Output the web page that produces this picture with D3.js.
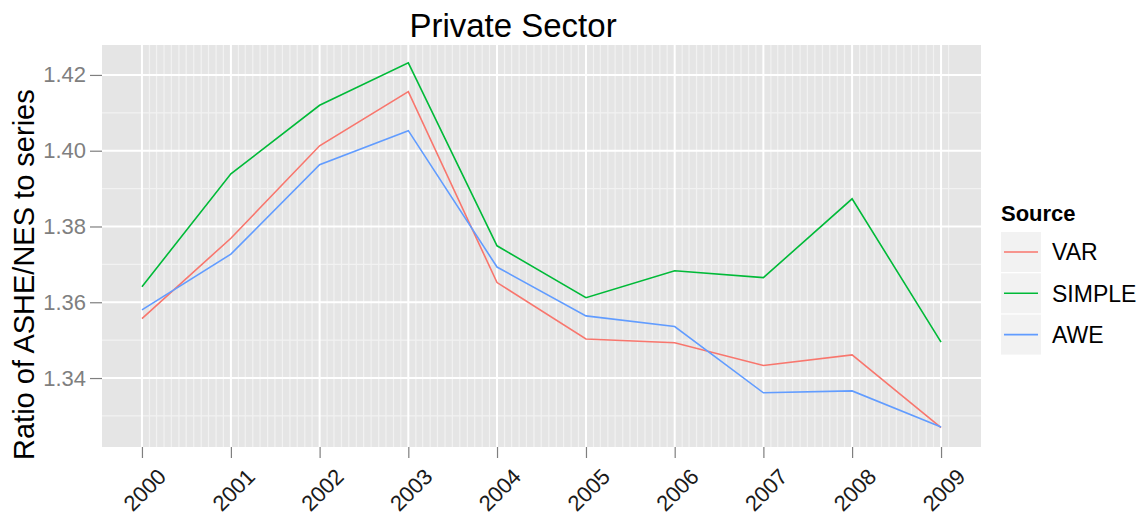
<!DOCTYPE html>
<meta charset="utf-8">
<script src="https://d3js.org/d3.v7.min.js"></script>
<style>
  body { margin: 0; background: #fff; }
  text { font-family: "Liberation Sans", Arial, sans-serif; }
</style>
<div id="chart"></div>
<script>
// data
const years = [2000, 2001, 2002, 2003, 2004, 2005, 2006, 2007, 2008, 2009];
const varSeries    = [1.3557, 1.3769, 1.4013, 1.4156, 1.3652, 1.3503, 1.3493, 1.3433, 1.3461, 1.3269];
const simpleSeries = [1.3641, 1.3939, 1.4120, 1.4232, 1.3749, 1.3612, 1.3683, 1.3665, 1.3873, 1.3495];
const aweSeries    = [1.3580, 1.3727, 1.3963, 1.4053, 1.3693, 1.3564, 1.3536, 1.3361, 1.3366, 1.3271];
const sourceNames  = ["VAR", "SIMPLE", "AWE"];
const yTicks = [1.34, 1.36, 1.38, 1.40, 1.42];
const yMinor = [1.33, 1.35, 1.37, 1.39, 1.41];

const series = [
  {name: "VAR", values: varSeries, color: "#F8766D"},
  {name: "SIMPLE", values: simpleSeries, color: "#00BA38"},
  {name: "AWE", values: aweSeries, color: "#619CFF"}
];

const W = 1147, H = 517;
const panel = {left: 102, right: 981, top: 45, bottom: 447};

const svg = d3.select("#chart").append("svg")
  .attr("width", W).attr("height", H);

// scales (ggplot style 5% expansion on the date axis)
const t0 = new Date(years[0], 0, 1), t1 = new Date(years[years.length - 1], 0, 1);
const pad = (t1 - t0) * 0.05;
const x = d3.scaleTime()
  .domain([new Date(+t0 - pad), new Date(+t1 + pad)])
  .range([panel.left, panel.right]);
const y = d3.scaleLinear()
  .domain([1.3218, 1.4279])
  .range([panel.bottom, panel.top]);

// panel background
svg.append("rect")
  .attr("x", panel.left).attr("y", panel.top)
  .attr("width", panel.right - panel.left).attr("height", panel.bottom - panel.top)
  .attr("fill", "#E5E5E5");

// minor grid
const months = d3.timeMonth.range(new Date(years[0], 1, 1), new Date(years[years.length - 1], 2, 1))
  .filter(d => d.getMonth() !== 0);
svg.append("g").selectAll("line")
  .data(months)
  .join("line")
    .attr("x1", d => x(d)).attr("x2", d => x(d))
    .attr("y1", panel.top).attr("y2", panel.bottom)
    .attr("stroke", "#F2F2F2").attr("stroke-width", 1.2);
svg.append("g").selectAll("line")
  .data(yMinor)
  .join("line")
    .attr("x1", panel.left).attr("x2", panel.right)
    .attr("y1", d => y(d)).attr("y2", d => y(d))
    .attr("stroke", "#F2F2F2").attr("stroke-width", 1.2);

// major grid
svg.append("g").selectAll("line")
  .data(years)
  .join("line")
    .attr("x1", d => x(new Date(d, 0, 1))).attr("x2", d => x(new Date(d, 0, 1)))
    .attr("y1", panel.top).attr("y2", panel.bottom)
    .attr("stroke", "#fff").attr("stroke-width", 2);
svg.append("g").selectAll("line")
  .data(yTicks)
  .join("line")
    .attr("x1", panel.left).attr("x2", panel.right)
    .attr("y1", d => y(d)).attr("y2", d => y(d))
    .attr("stroke", "#fff").attr("stroke-width", 2);

// lines
const line = d3.line()
  .x((d, i) => x(new Date(years[i], 0, 1)))
  .y(d => y(d));
svg.append("g").selectAll("path")
  .data(series)
  .join("path")
    .attr("d", d => line(d.values))
    .attr("fill", "none")
    .attr("stroke", d => d.color)
    .attr("stroke-width", 1.6);

// y axis
const yAxis = svg.append("g")
  .attr("transform", `translate(${panel.left},0)`)
  .call(d3.axisLeft(y).tickValues(yTicks).tickFormat(d3.format(".2f")).tickSize(12).tickPadding(4));
yAxis.select(".domain").remove();
yAxis.selectAll(".tick line").attr("stroke", "#7F7F7F").attr("stroke-width", 1.2);
yAxis.selectAll(".tick text")
  .attr("fill", "#7F7F7F")
  .style("font-size", "22px")
  .style("font-family", "'Liberation Sans', Arial, sans-serif");

// x axis
const xAxis = svg.append("g")
  .attr("transform", `translate(0,${panel.bottom})`)
  .call(d3.axisBottom(x).tickValues(years.map(d => new Date(d, 0, 1)))
    .tickFormat(d3.timeFormat("%Y")).tickSize(11));
xAxis.select(".domain").remove();
xAxis.selectAll(".tick line").attr("stroke", "#7F7F7F").attr("stroke-width", 1.2);
xAxis.selectAll(".tick text")
  .attr("fill", "#1A1A1A")
  .attr("y", 0).attr("dy", 0)
  .attr("text-anchor", "end")
  .attr("transform", "translate(25,31) rotate(-45)")
  .style("font-size", "22px")
  .style("font-family", "'Liberation Sans', Arial, sans-serif");

// title
svg.append("text")
  .attr("x", 513).attr("y", 37)
  .attr("text-anchor", "middle")
  .style("font-size", "33px")
  .text("Private Sector");

// y label
svg.append("text")
  .attr("transform", "translate(34,460) rotate(-90)")
  .attr("text-anchor", "start")
  .style("font-size", "29px")
  .text("Ratio of ASHE/NES to series");

// legend
const legend = svg.append("g").attr("transform", "translate(1001,0)");
legend.append("text")
  .attr("x", 0).attr("y", 221)
  .style("font-size", "22px").style("font-weight", "bold")
  .text("Source");
const keys = legend.selectAll("g.key")
  .data(series)
  .join("g")
    .attr("class", "key")
    .attr("transform", (d, i) => `translate(0,${232 + i * 41.3})`);
keys.append("rect")
  .attr("width", 40).attr("height", 40)
  .attr("fill", "#F2F2F2");
keys.append("line")
  .attr("x1", 3).attr("x2", 37).attr("y1", 20).attr("y2", 20)
  .attr("stroke", d => d.color).attr("stroke-width", 1.6);
keys.append("text")
  .attr("x", 51).attr("y", 20).attr("dy", "0.36em")
  .style("font-size", "23px")
  .text((d, i) => sourceNames[i]);
</script>
